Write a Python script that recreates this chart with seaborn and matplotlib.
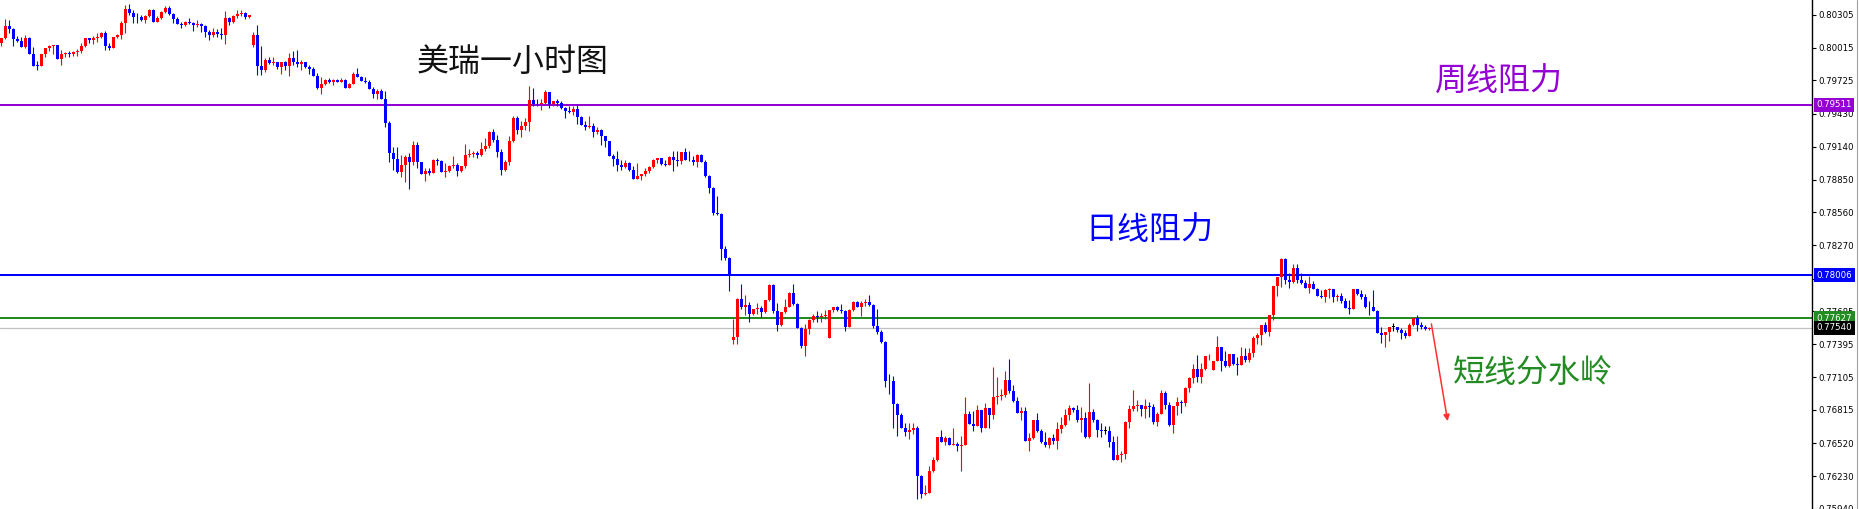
import numpy as np
import matplotlib
matplotlib.use("Agg")
import matplotlib.pyplot as plt
from matplotlib.lines import Line2D
import seaborn as sns

# USDCHF 1h candles, prices in 1e-5 points
first_open = 80055
gap_opens = {64: 80040, 184: 77434, 208: 77449, 304: 77170}  # candle no. -> open after a gap

closes = [
    80099, 80207, 80183, 80093, 80077, 80022, 80101, 79960, 79857, 79855,
    79958, 80010, 80031, 80035, 79919, 79958, 79972, 79958, 79981, 79989,
    80031, 80104, 80081, 80099, 80107, 80148, 80033, 80016, 80113, 80130,
    80236, 80357, 80324, 80289, 80282, 80260, 80298, 80348, 80245, 80280,
    80333, 80363, 80313, 80266, 80225, 80216, 80245, 80231, 80216, 80225,
    80207, 80157, 80128, 80157, 80134, 80125, 80275, 80245, 80298, 80308,
    80319, 80289, 80304, 80128, 79857, 79819, 79907, 79878, 79890, 79843,
    79884, 79857, 79928, 79890, 79870, 79887, 79848, 79828, 79769, 79658,
    79693, 79729, 79716, 79731, 79716, 79731, 79663, 79693, 79784, 79758,
    79722, 79711, 79652, 79605, 79628, 79561, 79350, 79085, 79035, 78918,
    78982, 79047, 79006, 79158, 79006, 78900, 78929, 78909, 79026, 79011,
    78918, 78923, 78967, 78982, 78923, 78973, 79064, 79079, 79084, 79070,
    79121, 79144, 79270, 79203, 79091, 78932, 79006, 79188, 79394, 79291,
    79326, 79355, 79555, 79517, 79514, 79526, 79623, 79517, 79546, 79526,
    79482, 79452, 79449, 79473, 79403, 79329, 79311, 79326, 79270, 79291,
    79232, 79188, 79055, 79033, 78982, 78962, 78997, 78938, 78859, 78885,
    78900, 78929, 78962, 79026, 79038, 78991, 78982, 79047, 79026, 79018,
    79091, 79026, 79020, 79003, 79070, 79003, 78879, 78777, 78551, 78542,
    78240, 78160, 78013, 77456, 77793, 77722, 77740, 77661, 77705, 77714,
    77676, 77784, 77916, 77685, 77564, 77681, 77720, 77846, 77749, 77535,
    77382, 77529, 77608, 77641, 77632, 77648, 77652, 77699, 77725, 77699,
    77685, 77544, 77699, 77769, 77725, 77764, 77769, 77740, 77558, 77505,
    77417, 77073, 77068, 76868, 76771, 76656, 76619, 76639, 76654, 76228,
    76075, 76081, 76280, 76375, 76580, 76536, 76566, 76509, 76516, 76495,
    76507, 76780, 76692, 76677, 76818, 76656, 76835, 76771, 76927, 76941,
    76950, 77079, 76980, 76897, 76789, 76806, 76539, 76568, 76730, 76633,
    76530, 76507, 76568, 76545, 76648, 76683, 76771, 76833, 76818, 76727,
    76745, 76580, 76795, 76727, 76639, 76633, 76633, 76536, 76377, 76419,
    76427, 76712, 76824, 76853, 76859, 76824, 76853, 76842, 76712, 76780,
    76965, 76862, 76686, 76853, 76883, 76874, 77006, 77097, 77176, 77108,
    77176, 77288, 77294, 77244, 77373, 77249, 77200, 77308, 77220, 77212,
    77288, 77256, 77317, 77449, 77476, 77564, 77505, 77652, 77910, 77990,
    78145, 77963, 77945, 78066, 77963, 77934, 77890, 77925, 77887, 77822,
    77813, 77872, 77886, 77813, 77822, 77773, 77714, 77709, 77881, 77837,
    77813, 77725, 77720, 77685, 77493, 77478, 77500, 77549, 77549, 77520,
    77493, 77464, 77567, 77623, 77564, 77549, 77531, 77540,
]

highs = [
    80104, 80269, 80260, 80189, 80119, 80107, 80125, 80113, 80019, 79899,
    79963, 80016, 80037, 80037, 80031, 79996, 79978, 79987, 79989, 80002,
    80055, 80104, 80104, 80121, 80148, 80154, 80160, 80060, 80113, 80139,
    80254, 80389, 80401, 80348, 80319, 80304, 80304, 80357, 80354, 80295,
    80342, 80383, 80383, 80324, 80289, 80240, 80254, 80275, 80242, 80260,
    80231, 80216, 80172, 80187, 80181, 80187, 80339, 80289, 80304, 80348,
    80348, 80333, 80304, 80157, 80216, 80031, 79922, 79936, 79931, 79892,
    79885, 79899, 79966, 79987, 79996, 79907, 79892, 79863, 79840, 79790,
    79760, 79740, 79751, 79740, 79740, 79746, 79737, 79702, 79796, 79834,
    79769, 79755, 79731, 79667, 79652, 79649, 79628, 79364, 79138, 79138,
    79070, 79070, 79085, 79188, 79182, 79006, 78953, 78953, 79035, 79041,
    79026, 78997, 78976, 79055, 78997, 78973, 79165, 79121, 79100, 79100,
    79182, 79218, 79276, 79300, 79247, 79121, 79020, 79232, 79414, 79414,
    79370, 79394, 79678, 79658, 79561, 79561, 79637, 79623, 79546, 79561,
    79546, 79487, 79502, 79502, 79511, 79408, 79364, 79408, 79350, 79315,
    79297, 79238, 79194, 79077, 79106, 79020, 79020, 79003, 78967, 78997,
    78903, 78953, 78973, 79033, 79044, 79041, 79026, 79062, 79106, 79100,
    79091, 79129, 79106, 79055, 79079, 79079, 79026, 78894, 78786, 78709,
    78557, 78263, 78166, 77617, 77808, 77925, 77828, 77769, 77705, 77764,
    77734, 77784, 77925, 77925, 77764, 77681, 77799, 77857, 77925, 77764,
    77544, 77573, 77617, 77661, 77690, 77667, 77699, 77699, 77725, 77734,
    77755, 77699, 77711, 77778, 77778, 77778, 77799, 77828, 77755, 77705,
    77520, 77426, 77132, 77117, 76874, 76786, 76701, 76698, 76698, 76677,
    76236, 76154, 76316, 76398, 76580, 76639, 76583, 76580, 76656, 76536,
    76589, 76932, 76809, 76809, 76859, 76818, 76874, 76835, 77197, 77109,
    77000, 77161, 77264, 77035, 76927, 76839, 76839, 76612, 76730, 76789,
    76648, 76619, 76575, 76604, 76712, 76751, 76824, 76859, 76839, 76859,
    76839, 76800, 77053, 76824, 76736, 76698, 76677, 76677, 76589, 76589,
    76456, 76721, 76859, 76991, 76906, 76859, 76912, 76883, 76868, 76795,
    76991, 76985, 76883, 76853, 76927, 76906, 77015, 77103, 77220, 77300,
    77229, 77294, 77308, 77244, 77464, 77361, 77337, 77308, 77308, 77285,
    77368, 77361, 77361, 77464, 77493, 77564, 77588, 77652, 77910, 77990,
    78160, 78160, 78028, 78108, 78101, 78028, 77960, 77998, 77954, 77896,
    77872, 77881, 77890, 77852, 77837, 77852, 77802, 77784, 77881, 77881,
    77872, 77837, 77778, 77872, 77696, 77544, 77505, 77549, 77579, 77549,
    77538, 77523, 77579, 77623, 77652, 77588, 77567, 77549,
]

lows = [
    80033, 80092, 80145, 80033, 80069, 80022, 80016, 79960, 79857, 79819,
    79852, 79936, 79989, 79958, 79919, 79866, 79931, 79936, 79943, 79945,
    79972, 80025, 80060, 80051, 80069, 80099, 79996, 79996, 80016, 80101,
    80095, 80148, 80304, 80236, 80236, 80251, 80231, 80284, 80245, 80245,
    80266, 80319, 80304, 80231, 80225, 80192, 80210, 80222, 80163, 80201,
    80157, 80113, 80084, 80113, 80113, 80092, 80046, 80213, 80233, 80275,
    80295, 80271, 80275, 80025, 79775, 79775, 79804, 79872, 79863, 79828,
    79784, 79819, 79766, 79863, 79848, 79819, 79834, 79781, 79769, 79649,
    79608, 79681, 79702, 79681, 79711, 79711, 79663, 79658, 79702, 79758,
    79722, 79702, 79652, 79570, 79564, 79561, 79311, 79006, 78938, 78909,
    78870, 78826, 78768, 78982, 78953, 78900, 78841, 78888, 78909, 78976,
    78918, 78870, 78915, 78953, 78879, 78918, 78953, 79047, 79047, 79041,
    79062, 79106, 79129, 79182, 79047, 78888, 78923, 78982, 79179, 79253,
    79223, 79291, 79282, 79496, 79496, 79461, 79511, 79482, 79496, 79496,
    79476, 79394, 79438, 79417, 79341, 79329, 79291, 79306, 79226, 79253,
    79152, 79138, 79055, 78967, 78923, 78938, 78953, 78923, 78859, 78859,
    78850, 78885, 78909, 78953, 78997, 78982, 78973, 78982, 78923, 78967,
    78991, 79026, 79018, 78982, 78962, 79003, 78874, 78733, 78533, 78533,
    78139, 78139, 77866, 77396, 77396, 77711, 77652, 77593, 77652, 77661,
    77637, 77667, 77778, 77667, 77514, 77553, 77667, 77720, 77740, 77535,
    77359, 77294, 77485, 77593, 77588, 77588, 77617, 77449, 77676, 77690,
    77670, 77514, 77544, 77685, 77720, 77646, 77729, 77734, 77535, 77485,
    77405, 77020, 76956, 76654, 76589, 76656, 76589, 76560, 76604, 76031,
    76037, 76060, 76081, 76266, 76363, 76531, 76501, 76501, 76501, 76448,
    76272, 76501, 76692, 76633, 76677, 76619, 76656, 76654, 76736, 76868,
    76906, 76927, 76962, 76883, 76786, 76730, 76539, 76456, 76560, 76619,
    76522, 76492, 76478, 76516, 76472, 76612, 76672, 76727, 76795, 76712,
    76624, 76566, 76566, 76712, 76580, 76580, 76604, 76492, 76377, 76383,
    76354, 76383, 76656, 76809, 76809, 76765, 76742, 76756, 76692, 76677,
    76780, 76824, 76677, 76612, 76771, 76786, 76853, 76976, 77053, 77064,
    77053, 77170, 77256, 77170, 77249, 77161, 77191, 77191, 77212, 77123,
    77212, 77235, 77235, 77282, 77396, 77388, 77493, 77470, 77611, 77822,
    77901, 77925, 77890, 77940, 77940, 77925, 77890, 77852, 77881, 77822,
    77808, 77769, 77808, 77769, 77773, 77758, 77714, 77661, 77705, 77828,
    77793, 77714, 77652, 77685, 77491, 77405, 77373, 77420, 77514, 77500,
    77441, 77447, 77464, 77558, 77508, 77531, 77520, 77520,
]

# horizontal levels
level_values = [0.79511, 0.78006, 0.77627]
level_colors = ['#9400D3', '#0000FF', '#228B22']
bid_price = 0.77540

price_ticks = [0.80305, 0.80015, 0.79725, 0.79430, 0.79140, 0.78850, 0.78560, 0.78270,
               0.77975, 0.77685, 0.77395, 0.77105, 0.76815, 0.76520, 0.76230, 0.75940]

sns.set_theme(style="white")
plt.rcParams['font.family'] = ['DejaVu Sans', 'Noto Sans CJK SC']
cjk = ['Noto Sans CJK SC', 'DejaVu Sans']

c = np.array(closes) / 1e5
h = np.array(highs) / 1e5
l = np.array(lows) / 1e5
o = np.concatenate([[first_open], closes[:-1]]).astype(float)
for k, v in gap_opens.items():
    o[k - 1] = v
o = o / 1e5
h = np.maximum(h, np.maximum(o, c))
l = np.minimum(l, np.minimum(o, c))
x = np.arange(len(c))

cols = np.where(c > o, '#FF0000', np.where(c < o, '#0000FF', '#000000'))

fig = plt.figure(figsize=(18.59, 5.09), dpi=100)
ax = fig.add_axes([0, 0, 1812 / 1859, 1])

# levels first, candles on top
for val, colr in zip(level_values, level_colors):
    ax.axhline(val, color=colr, lw=1.45, zorder=1)
ax.axhline(bid_price, color='#C0C0C0', lw=0.9, zorder=1)

ax.vlines(x, l, h, colors=cols, linewidth=0.8, zorder=2)
body = np.maximum(np.abs(c - o), 0.00006)
ax.bar(x, body, bottom=np.minimum(o, c), width=0.65, color=cols, linewidth=0, zorder=3)

ax.set_xlim(-0.33, 452.67)
ax.set_ylim(0.75952, 0.80436)

# right price scale
ax.yaxis.tick_right()
ax.set_yticks(price_ticks)
ax.set_yticklabels([f"{t:.5f}" for t in price_ticks])
ax.tick_params(axis='y', which='both', right=True, length=3, width=0.8, pad=1.5,
               labelsize=6.2, colors='black')
ax.set_xticks([])
for side in ['top', 'left', 'bottom']:
    ax.spines[side].set_visible(False)
ax.spines['right'].set_color('black')
ax.spines['right'].set_linewidth(1.0)

# coloured price tags
tag_tr = ax.get_yaxis_transform()
for val, colr in zip(level_values + [bid_price], level_colors + ['#000000']):
    ax.text(1.0025, val, f"{val:.5f}", transform=tag_tr, ha='left', va='center',
            fontsize=6.2, color='white', clip_on=False, zorder=5,
            bbox=dict(boxstyle='square,pad=0.28', fc=colr, ec='none'))

# annotations
ax.text(103.9, 0.7989, '美瑞一小时图', family=cjk, fontsize=23, color='#111111', va='center')
ax.text(358.4, 0.79714, '周线阻力', family=cjk, fontsize=23, color='#9400D3', va='center')
ax.text(270.9, 0.78401, '日线阻力', family=cjk, fontsize=23, color='#0000FF', va='center')
ax.text(362.9, 0.77141, '短线分水岭', family=cjk, fontsize=23, color='#228B22', va='center')

ax.annotate('', xy=(361.7, 0.76692), xytext=(357.4, 0.77599),
            arrowprops=dict(arrowstyle='-|>', color='#FF3030', lw=1.1, mutation_scale=9))

fig.add_artist(Line2D([1857 / 1859] * 2, [0, 1], color='#A0A0A0', lw=0.8))

fig.savefig('out.png', dpi=100)
